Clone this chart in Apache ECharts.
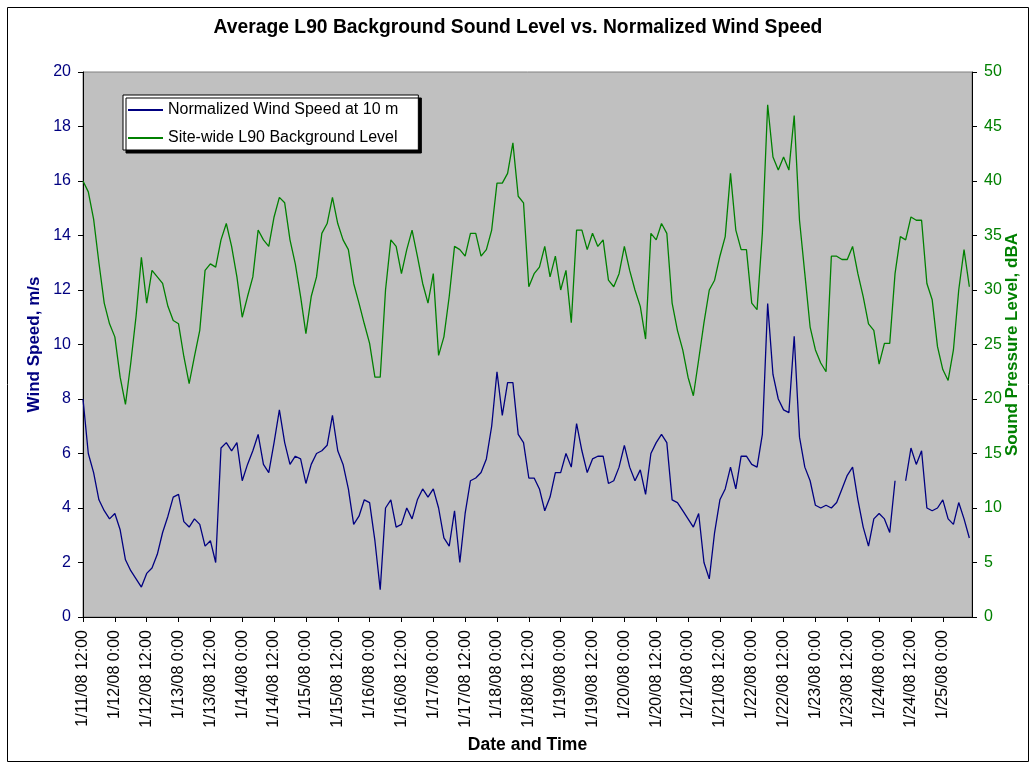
<!DOCTYPE html>
<html>
<head>
<meta charset="utf-8">
<title>Average L90 Background Sound Level vs. Normalized Wind Speed</title>
<script src="https://cdn.jsdelivr.net/npm/echarts@6/dist/echarts.min.js"></script>
<style>
  html, body { margin: 0; padding: 0; background: #fff; }
  #chart { width: 1036px; height: 769px; }
</style>
</head>
<body>
<div id="chart"></div>
<script>
// hours since 1/11/08 12:00, one reading every 2 hours
const stepHours = 2

const xTickLabels = [
  '1/11/08 12:00', '1/12/08 0:00', '1/12/08 12:00', '1/13/08 0:00', '1/13/08 12:00',
  '1/14/08 0:00', '1/14/08 12:00', '1/15/08 0:00', '1/15/08 12:00', '1/16/08 0:00',
  '1/16/08 12:00', '1/17/08 0:00', '1/17/08 12:00', '1/18/08 0:00', '1/18/08 12:00',
  '1/19/08 0:00', '1/19/08 12:00', '1/20/08 0:00', '1/20/08 12:00', '1/21/08 0:00',
  '1/21/08 12:00', '1/22/08 0:00', '1/22/08 12:00', '1/23/08 0:00', '1/23/08 12:00',
  '1/24/08 0:00', '1/24/08 12:00', '1/25/08 0:00'
]

// Normalized Wind Speed at 10 m (m/s)
const windSpeed = [
  8.0, 6.0, 5.3, 4.3, 3.9, 3.6, 3.8, 3.2, 2.1, 1.7, 1.4, 1.1, 1.6, 1.8, 2.3, 3.1, 3.7, 4.4, 4.5,
  3.5, 3.3, 3.6, 3.4, 2.6, 2.8, 2.0, 6.2, 6.4, 6.1, 6.4, 5.0, 5.6, 6.1, 6.7, 5.6, 5.3, 6.4, 7.6,
  6.4, 5.6, 5.9, 5.8, 4.9, 5.6, 6.0, 6.1, 6.3, 7.4, 6.1, 5.6, 4.7, 3.4, 3.7, 4.3, 4.2, 2.8,
  1.0, 4.0, 4.3, 3.3, 3.4, 4.0, 3.6, 4.3, 4.7, 4.4, 4.7, 4.0, 2.9, 2.6, 3.9, 2.0, 3.8, 5.0, 5.1,
  5.3, 5.8, 7.0, 9.0, 7.4, 8.6, 8.6, 6.7, 6.4, 5.1, 5.1, 4.7, 3.9, 4.4, 5.3, 5.3, 6.0, 5.5, 7.1,
  6.1, 5.3, 5.8, 5.9, 5.9, 4.9, 5.0, 5.5, 6.3, 5.5, 5.0, 5.4, 4.5, 6.0, 6.4, 6.7, 6.4, 4.3, 4.2,
  3.9, 3.6, 3.3, 3.8, 2.0, 1.4, 3.1, 4.3, 4.7, 5.5, 4.7, 5.9, 5.9, 5.6, 5.5, 6.7, 11.5, 8.9,
  8.0, 7.6, 7.5, 10.3, 6.6, 5.5, 5.0, 4.1, 4.0, 4.1, 4.0, 4.2, 4.7, 5.2, 5.5, 4.3, 3.3, 2.6, 3.6,
  3.8, 3.6, 3.1, 5.0, null, 5.0, 6.2, 5.6, 6.1, 4.0, 3.9, 4.0, 4.3, 3.6, 3.4, 4.2, 3.6, 2.9
]

// Site-wide L90 Background Level (dBA)
const backgroundLevel = [
  40.0, 39.0, 36.5, 32.5, 28.8, 26.9, 25.7, 22.0, 19.5, 23.3, 27.6, 33.0, 28.8, 31.8, 31.2, 30.6,
  28.5, 27.2, 26.9, 23.9, 21.4, 23.9, 26.3, 31.8, 32.4, 32.1, 34.6, 36.1, 34.0, 31.2, 27.5, 29.4,
  31.2, 35.5, 34.6, 34.0, 36.7, 38.5, 38.0, 34.6, 32.4, 29.4, 26.0, 29.4, 31.2, 35.2, 36.1, 38.5,
  36.1, 34.6, 33.7, 30.6, 28.8, 26.9, 25.1, 22.0, 22.0, 30.0, 34.6, 34.0, 31.5, 33.7, 35.5, 33.1,
  30.6, 28.8, 31.5, 24.0, 25.7, 29.4, 34.0, 33.7, 33.1, 35.2, 35.2, 33.1, 33.7, 35.5, 39.8, 39.8,
  40.7, 43.5, 38.6, 38.0, 30.3, 31.5, 32.1, 34.0, 31.2, 33.1, 30.0, 31.8, 27.0, 35.5, 35.5, 33.7,
  35.2, 34.0, 34.6, 30.9, 30.3, 31.5, 34.0, 31.8, 30.0, 28.5, 25.5, 35.2, 34.6, 36.1, 35.2, 28.8,
  26.3, 24.5, 22.0, 20.3, 23.6, 27.0, 30.0, 30.9, 33.1, 34.9, 40.7, 35.5, 33.7, 33.7, 28.8, 28.2,
  35.2, 47.0, 42.2, 41.0, 42.2, 41.0, 46.0, 36.4, 31.5, 26.6, 24.5, 23.3, 22.5, 33.1, 33.1, 32.8,
  32.8, 34.0, 31.5, 29.4, 26.9, 26.3, 23.2, 25.1, 25.1, 31.5, 34.9, 34.6, 36.7, 36.4, 36.4, 30.6,
  29.1, 24.8, 22.7, 21.7, 24.5, 30.0, 33.7, 30.3
]

const FONT = 'Liberation Sans, Arial, sans-serif'
const NAVY = '#000080'
const GREEN = '#008000'

const toPairs = arr => arr.map((v, i) => [i * stepHours, v])

const myChart = echarts.init(document.getElementById('chart'))
const option = {
  animation: false,
  backgroundColor: '#fff',
  textStyle: { fontFamily: FONT },
  title: {
    text: 'Average L90 Background Sound Level vs. Normalized Wind Speed',
    left: 'center',
    top: 18,
    padding: 0,
    textStyle: { fontFamily: FONT, fontSize: 19.3, fontWeight: 'bold', color: '#000' }
  },
  graphic: [{
    type: 'rect',
    silent: true,
    shape: { x: 7.5, y: 7.5, width: 1021, height: 754 },
    style: { fill: 'none', stroke: '#000', lineWidth: 1 }
  }],
  legend: {
    orient: 'vertical',
    left: 123,
    top: 95,
    padding: [7, 20, 4, 5],
    itemGap: 12,
    itemWidth: 35,
    itemHeight: 2,
    icon: 'rect',
    backgroundColor: '#fff',
    borderColor: '#000',
    borderWidth: 1,
    shadowColor: '#000',
    shadowOffsetX: 3,
    shadowOffsetY: 3,
    shadowBlur: 0,
    textStyle: { fontFamily: FONT, fontSize: 16, color: '#000' },
    data: ['Normalized Wind Speed at 10 m', 'Site-wide L90 Background Level']
  },
  grid: {
    left: 83,
    right: 64,
    top: 72,
    bottom: 152,
    show: true,
    backgroundColor: '#C0C0C0',
    borderColor: '#808080',
    borderWidth: 1
  },
  xAxis: {
    type: 'value',
    min: 0,
    max: 335,
    interval: 12,
    name: 'Date and Time',
    nameLocation: 'middle',
    nameGap: 119,
    nameMoveOverlap: false,
    nameTextStyle: { fontFamily: FONT, fontSize: 17.5, fontWeight: 'bold', color: '#000' },
    axisLine: { lineStyle: { color: '#000', width: 1 } },
    axisTick: { length: 5, lineStyle: { color: '#000' } },
    splitLine: { show: false },
    axisLabel: {
      rotate: 90,
      margin: 13,
      fontFamily: FONT,
      fontSize: 16,
      color: '#000',
      showMaxLabel: false,
      formatter: function (v) {
        const i = v / 12
        return Number.isInteger(i) && xTickLabels[i] ? xTickLabels[i] : ''
      }
    }
  },
  yAxis: [{
    type: 'value',
    min: 0,
    max: 20,
    interval: 2,
    position: 'left',
    name: 'Wind Speed, m/s',
    nameLocation: 'middle',
    nameRotate: 90,
    nameGap: 40,
    nameMoveOverlap: false,
    nameTextStyle: { fontFamily: FONT, fontSize: 17, fontWeight: 'bold', color: NAVY },
    axisLine: { show: true, lineStyle: { color: '#000', width: 1 } },
    axisTick: { show: true, length: 5, lineStyle: { color: '#000' } },
    splitLine: { show: false },
    axisLabel: { margin: 12, fontFamily: FONT, fontSize: 16, color: NAVY }
  }, {
    type: 'value',
    min: 0,
    max: 50,
    interval: 5,
    position: 'right',
    name: 'Sound Pressure Level, dBA',
    nameLocation: 'middle',
    nameRotate: 90,
    nameGap: 32,
    nameMoveOverlap: false,
    nameTextStyle: { fontFamily: FONT, fontSize: 17, fontWeight: 'bold', color: GREEN },
    axisLine: { show: true, lineStyle: { color: '#000', width: 1 } },
    axisTick: { show: true, length: 5, lineStyle: { color: '#000' } },
    splitLine: { show: false },
    axisLabel: { margin: 12, fontFamily: FONT, fontSize: 16, color: GREEN }
  }],
  series: [{
    name: 'Normalized Wind Speed at 10 m',
    type: 'line',
    yAxisIndex: 0,
    symbol: 'none',
    showSymbol: false,
    connectNulls: false,
    color: NAVY,
    lineStyle: { color: NAVY, width: 1.3 },
    data: toPairs(windSpeed)
  }, {
    name: 'Site-wide L90 Background Level',
    type: 'line',
    yAxisIndex: 1,
    symbol: 'none',
    showSymbol: false,
    color: GREEN,
    lineStyle: { color: GREEN, width: 1.3 },
    data: toPairs(backgroundLevel)
  }]
}
myChart.setOption(option)
</script>
</body>
</html>
